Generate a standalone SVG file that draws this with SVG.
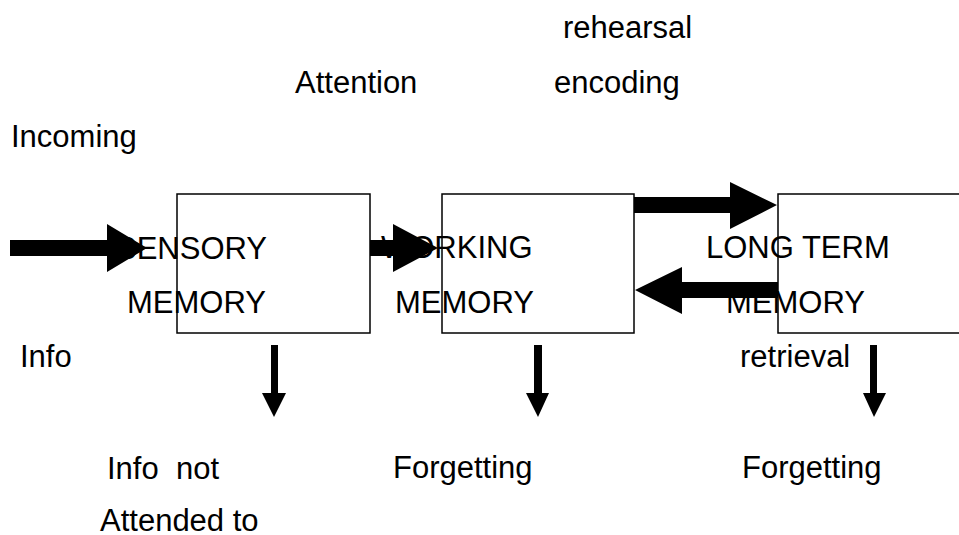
<svg xmlns="http://www.w3.org/2000/svg" width="959" height="535" viewBox="0 0 959 535">
  <style>
    .box { fill: none; stroke: #000; stroke-width: 1.5; }
    .lbl { font-family: "Liberation Sans", Arial, sans-serif; font-size: 31px; fill: #000; white-space: pre; }
    .arrow { fill: #000; stroke: none; }
  </style>
  <rect width="959" height="535" fill="#fff"/>

  <!-- memory stores -->
  <g id="sensory">
    <rect class="box" x="177" y="194" width="193" height="139"/>
    <text class="lbl" x="116" y="259">SENSORY</text>
    <text class="lbl" x="127" y="313">MEMORY</text>
  </g>
  <g id="working">
    <rect class="box" x="442" y="194" width="192" height="139"/>
    <text class="lbl" x="381" y="258">WORKING</text>
    <text class="lbl" x="395" y="313">MEMORY</text>
  </g>
  <g id="longterm">
    <rect class="box" x="778" y="194" width="200" height="139"/>
    <text class="lbl" x="706" y="258">LONG TERM</text>
    <text class="lbl" x="726" y="313">MEMORY</text>
  </g>

  <!-- block arrows between stores -->
  <g id="connectors">
    <polygon class="arrow" points="10,240 107,240 107,224 147,248 107,272 107,256 10,256"/>
    <polygon class="arrow" points="370,240 393,240 393,224 438,248 393,272 393,256 370,256"/>
    <polygon class="arrow" points="634,197 730,197 730,182 777,205 730,229 730,213 634,213"/>
    <polygon class="arrow" points="778,282 682,282 682,267 635,290 682,314 682,298 778,298"/>
    <polygon class="arrow" points="271,345 278,345 278,393 286,393 274,417 262,393 271,393"/>
    <polygon class="arrow" points="534,345 542,345 542,393 549,393 538,417 526,393 534,393"/>
    <polygon class="arrow" points="870,345 877,345 877,393 886,393 874,417 863,393 870,393"/>
  </g>

  <!-- process labels -->
  <g id="labels">
    <text class="lbl" x="563" y="38">rehearsal</text>
    <text class="lbl" x="295" y="93">Attention</text>
    <text class="lbl" x="554" y="93">encoding</text>
    <text class="lbl" x="11" y="147">Incoming</text>
    <text class="lbl" x="20" y="367">Info</text>
    <text class="lbl" x="740" y="367">retrieval</text>
    <text class="lbl" x="107" y="479">Info  not</text>
    <text class="lbl" x="100" y="531">Attended to</text>
    <text class="lbl" x="393" y="478">Forgetting</text>
    <text class="lbl" x="742" y="478">Forgetting</text>
  </g>
</svg>
